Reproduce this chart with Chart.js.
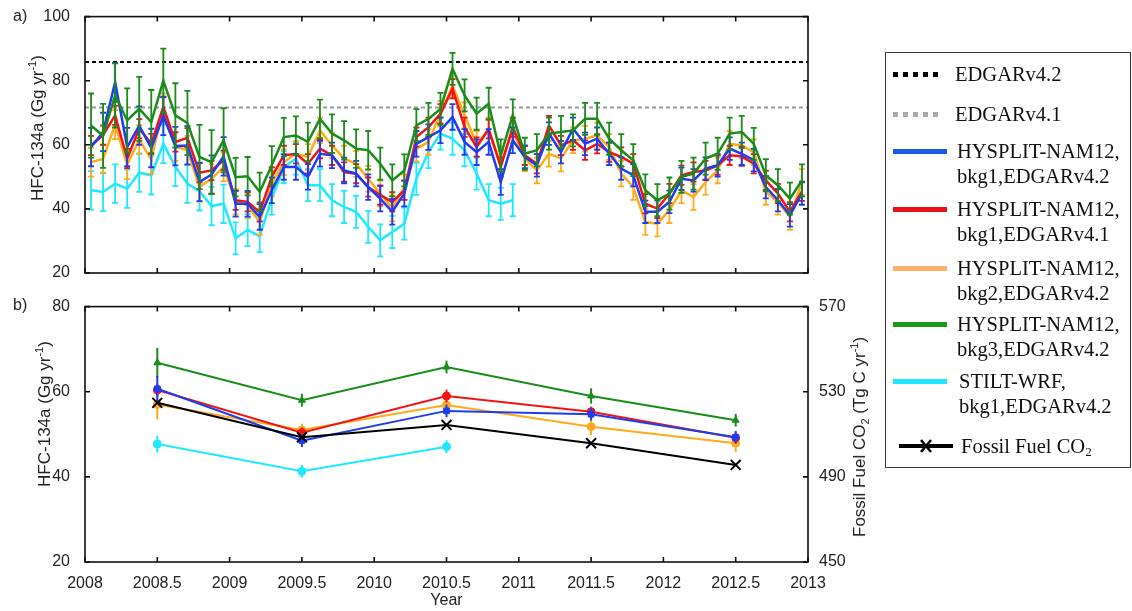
<!DOCTYPE html>
<html>
<head>
<meta charset="utf-8">
<script src="https://cdn.jsdelivr.net/npm/chart.js@4/dist/chart.umd.min.js"></script>
<style>
body{margin:0;background:#fff;width:1132px;height:611px;position:relative;overflow:hidden;font-family:"Liberation Sans",Arial,sans-serif;color:#222;}
canvas{position:absolute;}
#top{left:0;top:0;}
#bottom{left:0;top:290px;}
.lab{position:absolute;font-size:16px;line-height:16px;}
.ytitle{position:absolute;font-size:17px;white-space:nowrap;transform:translate(-50%,-50%) rotate(-90deg);line-height:20px;}
.ytitle sup{font-size:11px;vertical-align:7px;line-height:0;}
.ytitle sub{font-size:11px;vertical-align:-4px;line-height:0;}
#legend{position:absolute;left:885px;top:52px;width:244px;height:414px;border:1.5px solid #333;font-family:"Liberation Serif","Times New Roman",serif;font-size:20.5px;color:#111;}
.entry{position:absolute;line-height:25px;white-space:nowrap;}
.sample{position:absolute;height:5px;}
.dots{background:repeating-linear-gradient(to right,var(--c) 0 5px,transparent 5px 10px);}
.entry sub{font-size:13px;vertical-align:-3px;line-height:0;}
</style>
</head>
<body>
<canvas id="top" width="830" height="290"></canvas>
<canvas id="bottom" width="900" height="321"></canvas>

<div class="lab" style="left:13px;top:8px;">a)</div>
<div class="lab" style="left:13px;top:297px;">b)</div>
<div class="ytitle" style="left:38px;top:128px;">HFC-134a (Gg yr<sup>-1</sup>)</div>
<div class="ytitle" style="left:45px;top:414px;">HFC-134a (Gg yr<sup>-1</sup>)</div>
<div class="ytitle" style="left:860px;top:437px;">Fossil Fuel CO<sub>2</sub> (Tg C yr<sup>-1</sup>)</div>

<div id="legend"></div>

<script>
'use strict'

// monthly HFC-134a emissions, Jan 2008 - Dec 2012 (Gg/yr)
let startYear = 2008;
let bkg1v42 = [
    59.3, 64.0, 79.5, 59.3, 66.0, 59.0, 69.0, 59.6, 59.8, 48.4, 50.7, 56.4,
    41.6, 41.6, 37.5, 45.8, 53.1, 53.1, 50.0, 57.2, 56.7, 52.0, 51.0, 46.8,
    43.2, 39.1, 44.8, 60.3, 62.4, 64.5, 68.7, 60.9, 57.7, 60.9, 48.4, 61.4,
    56.2, 53.6, 63.5, 57.7, 65.0, 60.3, 61.9, 57.2, 52.6, 50.5, 39.1, 39.1,
    42.2, 49.4, 48.9, 52.6, 53.6, 58.8, 57.2, 55.2, 46.8, 42.7, 38.0, 44.8
];
let bkg1v41 = [
    59.8, 63.0, 69.2, 55.7, 65.0, 60.4, 71.8, 60.9, 62.2, 51.3, 52.0, 55.2,
    42.7, 42.2, 39.0, 50.0, 56.7, 57.2, 54.1, 58.8, 56.7, 51.5, 51.0, 46.8,
    44.3, 42.2, 45.8, 62.4, 65.5, 69.7, 77.5, 65.5, 59.3, 65.0, 53.1, 65.5,
    56.7, 54.1, 66.0, 59.8, 61.4, 58.3, 60.3, 57.7, 56.2, 54.1, 41.6, 40.1,
    44.8, 50.5, 51.5, 52.0, 53.6, 56.7, 56.4, 54.1, 48.9, 44.8, 39.1, 45.5
];
let bkg2v42 = [
    54.6, 55.6, 66.3, 53.8, 61.6, 55.4, 71.5, 59.5, 58.3, 46.8, 49.4, 53.1,
    42.2, 41.1, 35.9, 47.9, 54.6, 57.2, 56.2, 64.5, 59.8, 55.7, 54.1, 49.4,
    44.8, 40.1, 46.8, 58.8, 60.9, 69.7, 78.5, 69.2, 60.3, 64.5, 54.1, 64.5,
    55.7, 52.0, 57.2, 55.7, 61.4, 61.9, 62.9, 59.3, 51.0, 46.8, 35.9, 35.4,
    39.6, 45.8, 43.7, 48.4, 52.0, 60.3, 59.8, 57.7, 45.3, 42.2, 37.5, 48.4
];
let bkg3v42 = [
    66.0, 62.8, 75.4, 67.6, 71.2, 67.1, 80.0, 69.2, 66.8, 56.2, 54.6, 61.4,
    49.9, 50.2, 45.3, 53.6, 62.4, 62.9, 60.9, 68.1, 63.5, 61.4, 58.8, 58.3,
    54.1, 48.9, 52.0, 66.1, 68.1, 71.2, 83.7, 75.4, 69.7, 72.8, 56.7, 69.2,
    57.2, 58.3, 63.5, 64.0, 64.5, 68.1, 68.1, 61.9, 58.3, 55.2, 45.8, 42.7,
    44.8, 50.0, 51.0, 55.7, 57.2, 63.5, 64.0, 60.3, 50.5, 47.4, 43.2, 48.9
];
let stiltWrf = [
    45.8, 45.3, 47.9, 46.3, 51.3, 50.5, 60.3, 53.1, 47.9, 45.5, 40.9, 41.6,
    30.8, 33.4, 31.5, 43.2, 53.0, 55.7, 47.4, 47.4, 42.7, 40.6, 39.1, 34.4,
    30.2, 32.8, 35.4, 49.4, 57.7, 63.5, 61.9, 58.3, 51.0, 42.7, 41.6, 42.7
];
// error bar half widths, one per year
let errBkg1v42 = [6, 4, 4, 3.5, 3.5];
let errBkg1v41 = [3, 3, 3, 3, 3];
let errBkg2v42 = [4.5, 4, 4, 4, 4];
let errBkg3v42 = [10, 6, 5, 5, 5];
let errStilt = [6, 5, 5];

// inventory estimates
let edgar42 = 85.8;
let edgar41 = 71.6;

// annual means
let years = [2008.5, 2009.5, 2010.5, 2011.5, 2012.5];
let annBkg1v42 = [60.7, 48.5, 55.5, 54.7, 49.3];
let annBkg1v41 = [60.4, 50.4, 59.0, 55.3, 49.2];
let annBkg2v42 = [57.0, 51.0, 56.9, 51.8, 47.9];
let annBkg3v42 = [66.8, 58.0, 65.8, 59.0, 53.3];
let annStilt = [47.7, 41.3, 47.1];
let annErrBkg1v42 = [3, 1.5, 1.5, 1.5, 1.5];
let annErrBkg1v41 = [1.5, 1.2, 1.5, 1.2, 1.2];
let annErrBkg2v42 = [3.5, 1.5, 1.5, 2, 2];
let annErrBkg3v42 = [3.5, 1.5, 1.5, 1.8, 1.5];
let annErrStilt = [2, 1.5, 1.5];
let fossilCO2 = [524.8, 508.6, 514.4, 505.8, 495.6];

// axis ticks
let yearTicks = [2008, 2008.5, 2009, 2009.5, 2010, 2010.5, 2011, 2011.5, 2012, 2012.5, 2013];
let topTicks = [20, 40, 60, 80, 100];
let bottomTicks = [20, 40, 60, 80];
let co2Ticks = [450, 490, 530, 570];

let blue = "#1e3cf0";
let red = "#f01414";
let orange = "#ffab1a";
let green = "#1a8c1a";
let cyan = "#1fe8ff";

Chart.defaults.font.family = '"Liberation Sans", Arial, sans-serif';
Chart.defaults.color = "#222";

function monthly(vals) {
    return vals.map(function (v, i) {
        return { x: startYear + (i + 0.5) / 12, y: v };
    });
}

function monthlyErr(vals, errYear) {
    return vals.map(function (v, i) {
        return errYear[Math.floor(i / 12)];
    });
}

function annual(vals) {
    return vals.map(function (v, i) {
        return { x: years[i], y: v };
    });
}

let errorBars = {
    id: "errorBars",
    afterDatasetDraw(chart, args) {
        let ds = chart.data.datasets[args.index];
        if (!ds.errors) return;
        let ctx = chart.ctx;
        let scale = chart.scales[ds.yAxisID || "y"];
        ctx.save();
        ctx.strokeStyle = ds.borderColor;
        ctx.lineWidth = ds.errWidth || 2;
        args.meta.data.forEach(function (pt, i) {
            let v = ds.data[i].y;
            let e = ds.errors[i];
            let top = scale.getPixelForValue(v + e);
            let bot = scale.getPixelForValue(v - e);
            ctx.beginPath();
            ctx.moveTo(pt.x, top);
            ctx.lineTo(pt.x, bot);
            if (ds.cap) {
                ctx.moveTo(pt.x - ds.cap, top);
                ctx.lineTo(pt.x + ds.cap, top);
                ctx.moveTo(pt.x - ds.cap, bot);
                ctx.lineTo(pt.x + ds.cap, bot);
            }
            ctx.stroke();
        });
        ctx.restore();
    },
};

// matlab style box with inward ticks
let frame = {
    id: "frame",
    afterDraw(chart, args, opts) {
        let ctx = chart.ctx;
        let a = chart.chartArea;
        let t = 5;
        ctx.save();
        ctx.strokeStyle = "#111";
        ctx.lineWidth = 1.6;
        ctx.beginPath();
        opts.xTicks.forEach(function (v) {
            let px = chart.scales.x.getPixelForValue(v);
            ctx.moveTo(px, a.bottom);
            ctx.lineTo(px, a.bottom - t);
            ctx.moveTo(px, a.top);
            ctx.lineTo(px, a.top + t);
        });
        opts.yTicks.forEach(function (v) {
            let py = chart.scales.y.getPixelForValue(v);
            ctx.moveTo(a.left, py);
            ctx.lineTo(a.left + t, py);
            if (!opts.y1Ticks) {
                ctx.moveTo(a.right, py);
                ctx.lineTo(a.right - t, py);
            }
        });
        if (opts.y1Ticks) {
            opts.y1Ticks.forEach(function (v) {
                let py = chart.scales.y1.getPixelForValue(v);
                ctx.moveTo(a.right, py);
                ctx.lineTo(a.right - t, py);
            });
        }
        ctx.stroke();
        ctx.strokeRect(a.left, a.top, a.right - a.left, a.bottom - a.top);
        ctx.restore();
    },
};

function monthlySet(label, vals, errYear, color, order) {
    return {
        label: label,
        data: monthly(vals),
        errors: monthlyErr(vals, errYear),
        cap: 3,
        errWidth: 1.8,
        borderColor: color,
        borderWidth: 2.5,
        pointRadius: 0,
        tension: 0,
        order: order,
    };
}

let topChart = new Chart(document.getElementById("top"), {
    type: "line",
    data: {
        datasets: [
            monthlySet("HYSPLIT-NAM12, bkg3, EDGARv4.2", bkg3v42, errBkg3v42, green, 1),
            monthlySet("HYSPLIT-NAM12, bkg1, EDGARv4.2", bkg1v42, errBkg1v42, blue, 2),
            monthlySet("HYSPLIT-NAM12, bkg1, EDGARv4.1", bkg1v41, errBkg1v41, red, 3),
            monthlySet("HYSPLIT-NAM12, bkg2, EDGARv4.2", bkg2v42, errBkg2v42, orange, 4),
            monthlySet("STILT-WRF, bkg1, EDGARv4.2", stiltWrf, errStilt, cyan, 5),
            {
                label: "EDGARv4.2",
                data: [{ x: 2008, y: edgar42 }, { x: 2013, y: edgar42 }],
                borderColor: "#000",
                borderDash: [4, 3],
                borderWidth: 2,
                pointRadius: 0,
                order: 6,
            },
            {
                label: "EDGARv4.1",
                data: [{ x: 2008, y: edgar41 }, { x: 2013, y: edgar41 }],
                borderColor: "#999",
                borderDash: [4, 3],
                borderWidth: 2,
                pointRadius: 0,
                order: 7,
            },
        ],
    },
    options: {
        responsive: false,
        animation: false,
        events: [],
        layout: { padding: { top: 16, right: 22, left: 0, bottom: 0 } },
        plugins: {
            legend: { display: false },
            tooltip: { enabled: false },
            frame: { xTicks: yearTicks, yTicks: topTicks },
        },
        scales: {
            x: {
                type: "linear",
                min: 2008,
                max: 2013,
                ticks: { display: false },
                grid: { display: false },
                border: { display: false },
                afterFit: function (s) { s.height = 17; },
            },
            y: {
                min: 20,
                max: 100,
                ticks: { stepSize: 20, padding: 7, font: { size: 16 } },
                grid: { display: false },
                border: { display: false },
                afterFit: function (s) { s.width = 85; },
            },
        },
    },
    plugins: [errorBars, frame],
});

function annualSet(label, vals, errs, color, style, order) {
    return {
        label: label,
        data: annual(vals),
        errors: errs,
        errWidth: 2,
        borderColor: color,
        backgroundColor: color,
        borderWidth: 2,
        pointStyle: style,
        pointRadius: 4,
        pointBorderWidth: 1,
        order: order,
    };
}

let bottomChart = new Chart(document.getElementById("bottom"), {
    type: "line",
    data: {
        datasets: [
            annualSet("HYSPLIT-NAM12, bkg3, EDGARv4.2", annBkg3v42, annErrBkg3v42, green, "triangle", 5),
            annualSet("HYSPLIT-NAM12, bkg1, EDGARv4.2", annBkg1v42, annErrBkg1v42, blue, "rect", 2),
            annualSet("HYSPLIT-NAM12, bkg1, EDGARv4.1", annBkg1v41, annErrBkg1v41, red, "circle", 3),
            annualSet("HYSPLIT-NAM12, bkg2, EDGARv4.2", annBkg2v42, annErrBkg2v42, orange, "circle", 4),
            annualSet("STILT-WRF, bkg1, EDGARv4.2", annStilt, annErrStilt, cyan, "circle", 6),
            {
                label: "Fossil Fuel CO2",
                data: annual(fossilCO2),
                yAxisID: "y1",
                borderColor: "#000",
                borderWidth: 2,
                pointStyle: "crossRot",
                pointRadius: 7,
                pointBorderWidth: 2,
                order: 1,
            },
        ],
    },
    options: {
        responsive: false,
        animation: false,
        events: [],
        layout: { padding: { top: 15, right: 0, left: 0, bottom: 0 } },
        plugins: {
            legend: { display: false },
            tooltip: { enabled: false },
            frame: { xTicks: yearTicks, yTicks: bottomTicks, y1Ticks: co2Ticks },
        },
        scales: {
            x: {
                type: "linear",
                min: 2008,
                max: 2013,
                ticks: {
                    stepSize: 0.5,
                    autoSkip: false,
                    maxRotation: 0,
                    padding: 4,
                    font: { size: 16 },
                    callback: function (v) { return String(v); },
                },
                title: { display: true, text: "Year", font: { size: 16 }, padding: { top: 0, bottom: 1 } },
                grid: { display: false },
                border: { display: false },
                afterFit: function (s) { s.height = 49; },
            },
            y: {
                min: 20,
                max: 80,
                ticks: { stepSize: 20, padding: 7, font: { size: 16 } },
                grid: { display: false },
                border: { display: false },
                afterFit: function (s) { s.width = 85; },
            },
            y1: {
                position: "right",
                min: 450,
                max: 570,
                ticks: { stepSize: 40, padding: 3, font: { size: 16 } },
                grid: { display: false },
                border: { display: false },
                afterFit: function (s) { s.width = 92; },
            },
        },
    },
    plugins: [errorBars, frame],
});

// legend, page coordinates
let legendItems = [
    { y: 73, kind: "dots", color: "#000", text: "EDGARv4.2", tx: 954 },
    { y: 113, kind: "dots", color: "#aaa", text: "EDGARv4.1", tx: 954 },
    { y: 150, kind: "line", color: "#1a5ce6", text: "HYSPLIT-NAM12,<br>bkg1,EDGARv4.2", tx: 956 },
    { y: 208, kind: "line", color: "#ee1111", text: "HYSPLIT-NAM12,<br>bkg1,EDGARv4.1", tx: 956 },
    { y: 267, kind: "line", color: "#ffb066", text: "HYSPLIT-NAM12,<br>bkg2,EDGARv4.2", tx: 956 },
    { y: 323, kind: "line", color: "#1a9a1a", text: "HYSPLIT-NAM12,<br>bkg3,EDGARv4.2", tx: 956 },
    { y: 380, kind: "line", color: "#22e6ff", text: "STILT-WRF,<br>bkg1,EDGARv4.2", tx: 958 },
    { y: 445, kind: "cross", color: "#000", text: "Fossil Fuel CO<sub>2</sub>", tx: 960 },
];

let legend = document.getElementById("legend");
legendItems.forEach(function (item) {
    let top = item.y - 52;
    let s;
    if (item.kind === "cross") {
        s = document.createElement("div");
        s.style.cssText = "position:absolute;left:" + (898 - 885) + "px;top:" + (top - 10) + "px;width:56px;height:20px;";
        s.innerHTML = '<svg width="56" height="20"><line x1="0" y1="10" x2="54" y2="10" stroke="#000" stroke-width="4"/>' +
            '<line x1="22" y1="4" x2="32" y2="16" stroke="#000" stroke-width="2.5"/><line x1="32" y1="4" x2="22" y2="16" stroke="#000" stroke-width="2.5"/></svg>';
    } else {
        s = document.createElement("div");
        s.className = "sample" + (item.kind === "dots" ? " dots" : "");
        s.style.left = (892 - 885) + "px";
        s.style.top = (top - 2.5) + "px";
        s.style.width = item.kind === "dots" ? "50px" : "54px";
        if (item.kind === "dots") s.style.setProperty("--c", item.color);
        else s.style.background = item.color;
    }
    legend.appendChild(s);
    let t = document.createElement("div");
    t.className = "entry";
    t.style.left = (item.tx - 885) + "px";
    t.style.top = (top - 12.5) + "px";
    t.innerHTML = item.text;
    legend.appendChild(t);
});
</script>
</body>
</html>
